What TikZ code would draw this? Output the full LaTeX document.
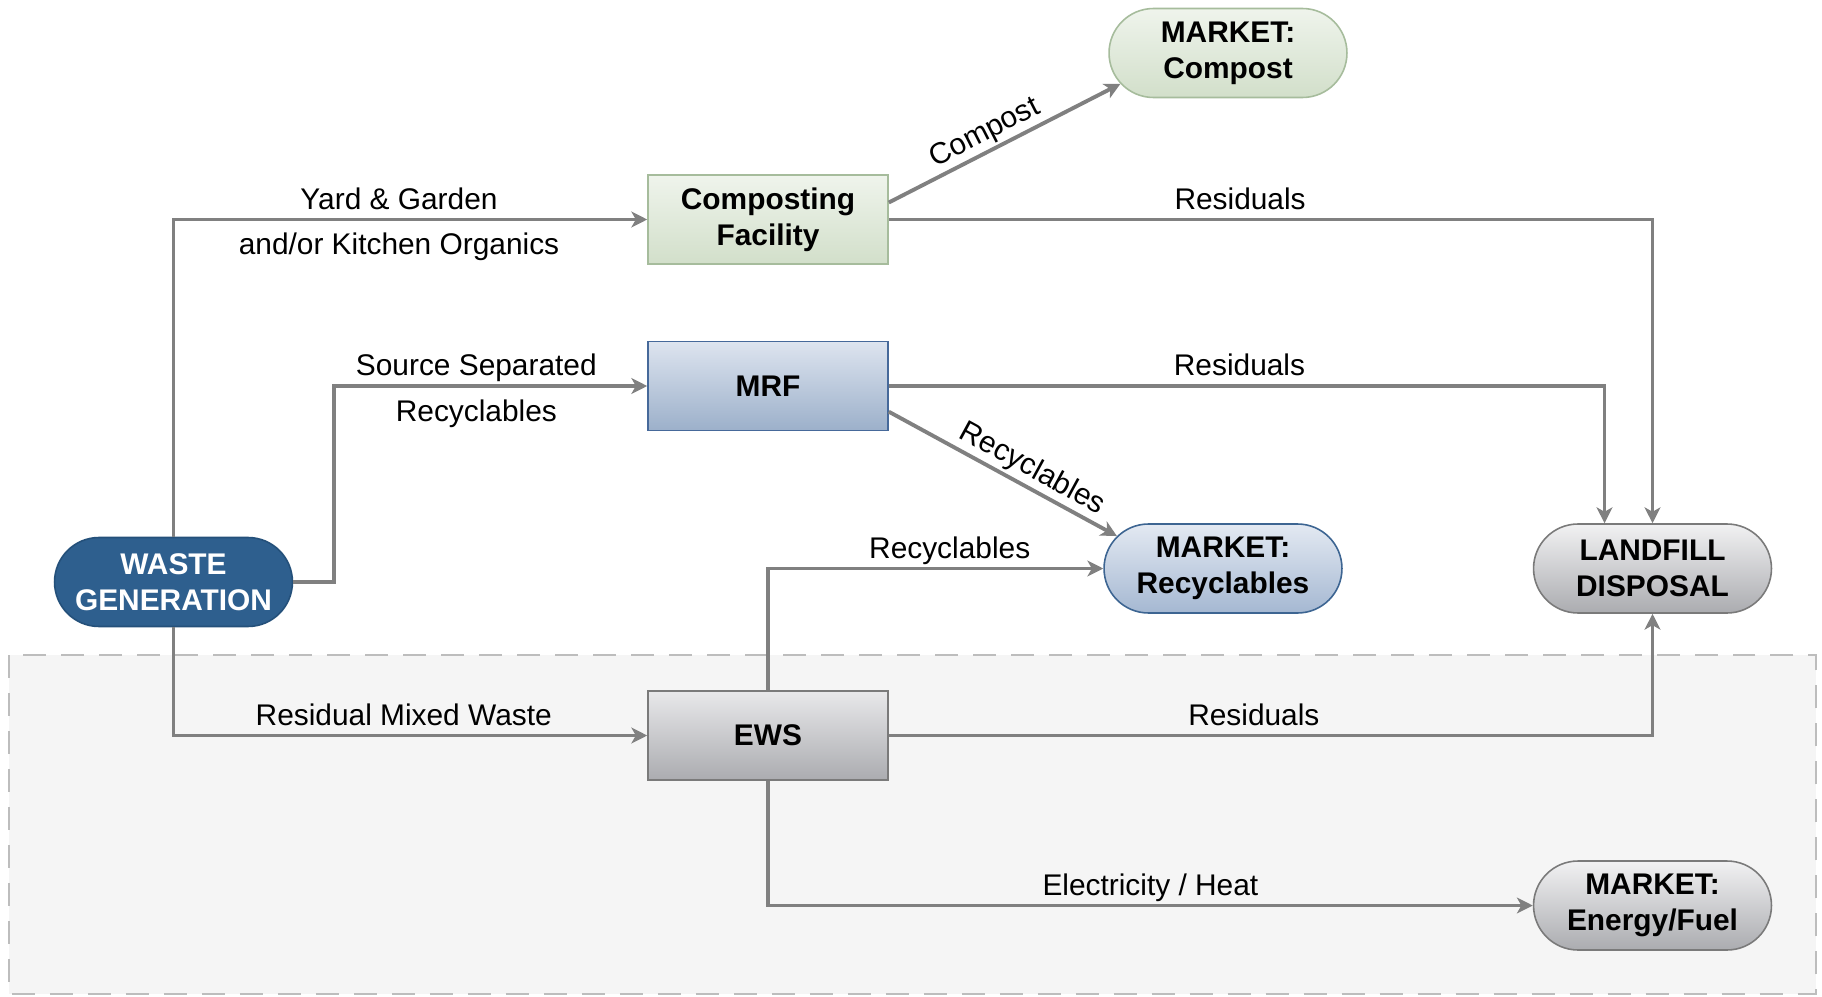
\documentclass[tikz,border=0pt]{standalone}
\usepackage{fontspec}
\setmainfont{Liberation Sans}
\usetikzlibrary{shapes.misc,arrows.meta}
\definecolor{linea}{HTML}{808080}
\definecolor{compT}{HTML}{EFF4EC}
\definecolor{compB}{HTML}{D2DFCA}
\definecolor{compD}{HTML}{A6BC9C}
\definecolor{mrfT}{HTML}{DDE4EF}
\definecolor{mrfB}{HTML}{9CB0CA}
\definecolor{mrfD}{HTML}{46699A}
\definecolor{ewsT}{HTML}{E8E8EA}
\definecolor{ewsB}{HTML}{ABACB0}
\definecolor{ewsD}{HTML}{7A7A7A}
\definecolor{wasteC}{HTML}{2E5F8E}
\definecolor{wasteD}{HTML}{24507A}
\definecolor{recT}{HTML}{E3E9F2}
\definecolor{recB}{HTML}{A5B8D2}
\definecolor{recD}{HTML}{3D6592}
\definecolor{zona}{HTML}{F5F5F5}
\definecolor{zonaD}{HTML}{BDBDBD}
\tikzset{
  box/.style={draw, rectangle, minimum width=4.8cm, minimum height=1.78cm, inner sep=2pt,
    font=\bfseries\fontsize{17}{20.5}\selectfont, align=center, line width=0.9pt},
  pill/.style={draw, rounded rectangle, minimum width=4.9cm, minimum height=1.78cm, inner sep=2pt,
    font=\bfseries\fontsize{17}{20.5}\selectfont, align=center, line width=0.9pt},
  flow/.style={draw=linea, line width=2.2pt, -{Stealth[length=9pt,width=9pt,inset=2.5pt]}},
  lab/.style={font=\fontsize{17}{20}\selectfont, inner sep=0pt, text height=12.2pt, text depth=0pt, text=black},
}
\begin{document}
\begin{tikzpicture}[x=0.02cm,y=-0.02cm]
  \useasboundingbox (0,0) rectangle (1822,997);
  \fill[white] (0,0) rectangle (1822,997);
  %zona EWS
  \draw[fill=zona, draw=zonaD, line width=1.2pt, dash pattern=on 0.46cm off 0.3cm] (9,655) rectangle (1816,994);
  %impianti
  \node[box, top color=compT, bottom color=compB, draw=compD] (comp) at (768,219.5) {Composting\\Facility};
  \node[box, top color=mrfT, bottom color=mrfB, draw=mrfD] (mrf) at (768,386) {MRF};
  \node[box, top color=ewsT, bottom color=ewsB, draw=ewsD] (ews) at (768,735.5) {EWS};
  %mercati e discarica
  \node[pill, fill=wasteC, draw=wasteD, text=white] (waste) at (173.5,582) {WASTE\\GENERATION};
  \node[pill, top color=compT, bottom color=compB, draw=compD] (mcomp) at (1228,53) {MARKET:\\Compost};
  \node[pill, top color=recT, bottom color=recB, draw=recD] (mrec) at (1223,568.5) {MARKET:\\Recyclables};
  \node[pill, top color=ewsT!60!white, bottom color=ewsB, draw=ewsD] (land) at (1652.5,568.5) {LANDFILL\\DISPOSAL};
  \node[pill, top color=ewsT!60!white, bottom color=ewsB, draw=ewsD] (menergy) at (1652.5,905.5) {MARKET:\\Energy/Fuel};
  %flussi
  \draw[flow] (waste.north) |- (comp.west)
    node[lab, pos=0.738, above=0.17cm] {Yard \& Garden}
    node[lab, pos=0.738, below=0.24cm] {and/or Kitchen Organics};
  \draw[flow] (waste.east) -- ++(41,0) |- (mrf.west)
    node[lab, pos=0.727, above=0.17cm] {Source Separated}
    node[lab, pos=0.727, below=0.24cm] {Recyclables};
  \draw[flow] (waste.south) |- (ews.west) node[lab, pos=0.743, above=0.17cm] {Residual Mixed Waste};
  \draw[flow] (comp.8) -- (mcomp.196) node[lab, pos=0.45, sloped, above=0.17cm] {Compost};
  \draw[flow] (comp.east) -| (land.north) node[lab, pos=0.23, above=0.17cm] {Residuals};
  \draw[flow] (mrf.east) -| ([xshift=-0.96cm]land.north) node[lab, pos=0.245, above=0.17cm] {Residuals};
  \draw[flow] (mrf.348) -- (mrec.163) node[lab, pos=0.59, sloped, above=0.17cm] {Recyclables};
  \draw[flow] (ews.north) |- (mrec.west) node[lab, pos=0.771, above=0.17cm] {Recyclables};
  \draw[flow] (ews.east) -| (land.south) node[lab, pos=0.239, above=0.17cm] {Residuals};
  \draw[flow] (ews.south) |- (menergy.west) node[lab, pos=0.75, above=0.17cm] {Electricity / Heat};
\end{tikzpicture}
\end{document}
